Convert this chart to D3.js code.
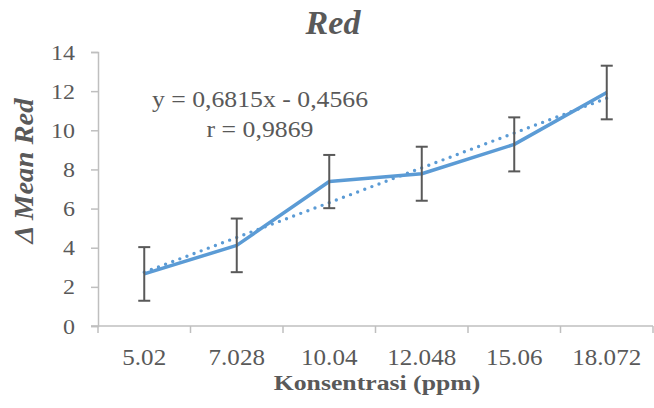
<!DOCTYPE html>
<html>
<head>
<meta charset="utf-8">
<script src="https://cdn.jsdelivr.net/npm/d3@7"></script>
<style>
  body { margin: 0; background: #fff; }
</style>
</head>
<body>
<div id="chart"></div>
<script>
var categories = ["5.02", "7.028", "10.04", "12.048", "15.06", "18.072"];
var meanRed = [2.66, 4.12, 7.38, 7.78, 9.28, 11.93];
var errRed = [1.37, 1.37, 1.36, 1.38, 1.38, 1.37];
var yTicks = [0, 2, 4, 6, 8, 10, 12, 14];
var equationLines = ["y = 0,6815x - 0,4566", "r = 0,9869"];

var width = 654, height = 408;
var margin = { top: 52, right: 1, bottom: 82, left: 98 };
var FONT = "Liberation Serif";
var TXT = "#595959";
var SX = 1.09; // text in the original is a bit wide

var svg = d3.select("#chart")
    .append("svg")
    .attr("width", width)
    .attr("height", height)
    .attr("font-family", FONT);

var x = d3.scaleBand()
    .domain(categories)
    .range([margin.left, width - margin.right]);

var y = d3.scaleLinear()
    .domain([0, 14])
    .range([height - margin.bottom, margin.top]);

var cx = function (i) { return x(categories[i]) + x.bandwidth() / 2; };

// small helper: text placed at (tx,ty), optional rotation, stretched horizontally
function label(tx, ty, str, size, opts) {
    opts = opts || {};
    var tr = "translate(" + tx + "," + ty + ")";
    if (opts.rotate) tr += " rotate(" + opts.rotate + ")";
    tr += " scale(" + (opts.sx || SX) + ",1)";
    return svg.append("text")
        .attr("transform", tr)
        .attr("text-anchor", opts.anchor || "middle")
        .attr("font-family", FONT)
        .attr("font-size", size)
        .attr("font-weight", opts.bold ? "bold" : null)
        .attr("font-style", opts.italic ? "italic" : null)
        .attr("fill", TXT)
        .text(str);
}

// y axis (line + ticks from d3, labels drawn stretched)
var yAxis = svg.append("g")
    .attr("transform", "translate(" + margin.left + ",0)")
    .call(d3.axisLeft(y).tickValues(yTicks).tickSize(7).tickFormat(""));
yAxis.select(".domain").attr("stroke", "#bfbfbf").attr("stroke-width", 1.5);
yAxis.selectAll(".tick line").attr("stroke", "#bfbfbf").attr("stroke-width", 1.5);

yTicks.forEach(function (t) {
    label(margin.left - 23, y(t) + 7.5, String(t), 22, { anchor: "end" });
});

// x axis line with ticks on band edges
var xBase = y(0);
svg.append("line")
    .attr("x1", margin.left - 7).attr("x2", width - margin.right)
    .attr("y1", xBase).attr("y2", xBase)
    .attr("stroke", "#bfbfbf").attr("stroke-width", 1.5);

var edges = categories.map(function (c) { return x(c); });
edges.push(x(categories[categories.length - 1]) + x.bandwidth());
svg.selectAll(".xtick")
    .data(edges).enter()
    .append("line")
    .attr("x1", function (d) { return d; })
    .attr("x2", function (d) { return d; })
    .attr("y1", xBase).attr("y2", xBase + 7)
    .attr("stroke", "#bfbfbf").attr("stroke-width", 1.5);

categories.forEach(function (c, i) {
    label(cx(i), 365, c, 23);
});

// trendline (least squares on category index, like the spreadsheet does)
var n = meanRed.length;
var xs = d3.range(1, n + 1);
var mx = d3.mean(xs), my = d3.mean(meanRed);
var slope = d3.sum(xs, function (v, i) { return (v - mx) * (meanRed[i] - my); }) /
    d3.sum(xs, function (v) { return (v - mx) * (v - mx); });
var icpt = my - slope * mx;

svg.append("line")
    .attr("x1", cx(0)).attr("y1", y(icpt + slope * 1))
    .attr("x2", cx(n - 1)).attr("y2", y(icpt + slope * n))
    .attr("stroke", "#5b9bd5")
    .attr("stroke-width", 3.4)
    .attr("stroke-linecap", "round")
    .attr("stroke-dasharray", "0 7.6");

// data line
var line = d3.line()
    .x(function (d, i) { return cx(i); })
    .y(function (d) { return y(d); });

svg.append("path")
    .datum(meanRed)
    .attr("d", line)
    .attr("fill", "none")
    .attr("stroke", "#5b9bd5")
    .attr("stroke-width", 3.5)
    .attr("stroke-linejoin", "round");

// error bars
var eb = svg.append("g").attr("stroke", "#595959").attr("stroke-width", 2);
meanRed.forEach(function (v, i) {
    var top = y(v + errRed[i]), bot = y(v - errRed[i]), xc = cx(i);
    eb.append("line").attr("x1", xc).attr("x2", xc).attr("y1", top).attr("y2", bot);
    eb.append("line").attr("x1", xc - 6).attr("x2", xc + 6).attr("y1", top).attr("y2", top);
    eb.append("line").attr("x1", xc - 6).attr("x2", xc + 6).attr("y1", bot).attr("y2", bot);
});

// equation
equationLines.forEach(function (s, i) {
    label(260, 106.5 + i * 30, s, 23, { sx: 1.12 });
});

// titles
label(333, 34, "Red", 34, { bold: true, italic: true, sx: 1 });
label(33, 171, "\u0394 Mean Red", 27, { bold: true, italic: true, rotate: -90, sx: 1.06 });
label(377, 389.5, "Konsentrasi (ppm)", 22, { bold: true, sx: 1.17 });
</script>
</body>
</html>
